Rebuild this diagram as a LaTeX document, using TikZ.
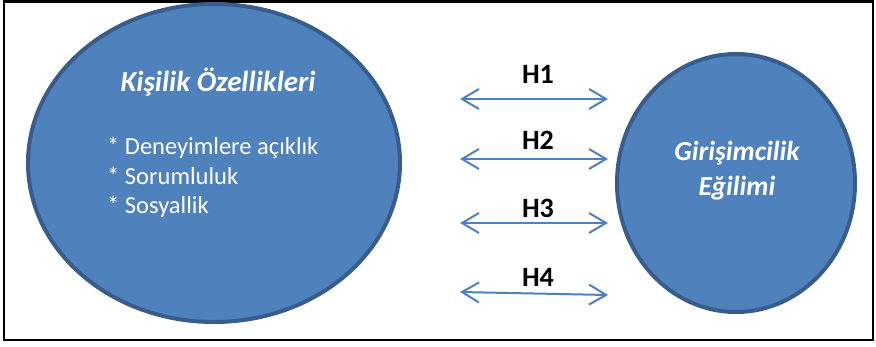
\documentclass[tikz,border=0pt]{standalone}
\usepackage{fontspec}
\setmainfont{Carlito}
\usetikzlibrary{shapes.geometric,arrows.meta}
\definecolor{blobfill}{HTML}{4F81BD}
\definecolor{blobedge}{HTML}{385D8A}
\definecolor{arrowcol}{HTML}{4F81BD}
\tikzset{
  blob/.style={ellipse, draw=blobedge, fill=blobfill, line width=4pt, inner sep=0pt},
  hlink/.style={draw=arrowcol, line width=2pt,
    {Straight Barb[length=17pt,width=20pt,line width=2pt]}-{Straight Barb[length=17pt,width=20pt,line width=2pt]}},
  hlabel/.style={font=\fontsize{28}{32}\selectfont\bfseries, text=black, inner sep=0pt},
  title/.style={font=\fontsize{29}{33}\selectfont\bfseries\itshape, text=white, inner sep=0pt, align=center},
  rtitle/.style={font=\fontsize{27.5}{32}\selectfont\bfseries\itshape, text=white, inner sep=0pt, align=center},
  items/.style={font=\fontsize{24.5}{29.5}\selectfont, text=white, inner sep=0pt, align=left}
}
\begin{document}
\begin{tikzpicture}[x=1pt,y=-1pt]
\useasboundingbox (0,0) rectangle (876,346);
\draw[line width=2.5pt] (4,1.5) rectangle (873,340);
\node[blob, minimum width=372pt, minimum height=318pt] (kisilik) at (214,163) {};
\node[blob, minimum width=238pt, minimum height=258pt] (girisim) at (736,183) {};
\node[title, anchor=center] (kt) at (218,82) {Kişilik Özellikleri};
\node[items, anchor=north west] (kl) at (107,137) {* Deneyimlere açıklık\\* Sorumluluk\\* Sosyallik};
\node[rtitle, anchor=center] (gt1) at (737,153) {Girişimcilik};
\node[rtitle, anchor=center] (gt2) at (737,188) {Eğilimi};
\coordinate (l1) at (460,99);  \coordinate (r1) at (608,99);
\coordinate (l2) at (460,159); \coordinate (r2) at (608,159);
\coordinate (l3) at (460,223); \coordinate (r3) at (608,223);
\coordinate (l4) at (460,292); \coordinate (r4) at (608,295);
\draw[hlink] (l1) -- (r1);
\draw[hlink] (l2) -- (r2);
\draw[hlink] (l3) -- (r3);
\draw[hlink] (l4) -- (r4);
\node[hlabel] (h1) at (538,74) {H1};
\node[hlabel] (h2) at (538,140) {H2};
\node[hlabel] (h3) at (538,208) {H3};
\node[hlabel] (h4) at (538,277) {H4};
\end{tikzpicture}
\end{document}
